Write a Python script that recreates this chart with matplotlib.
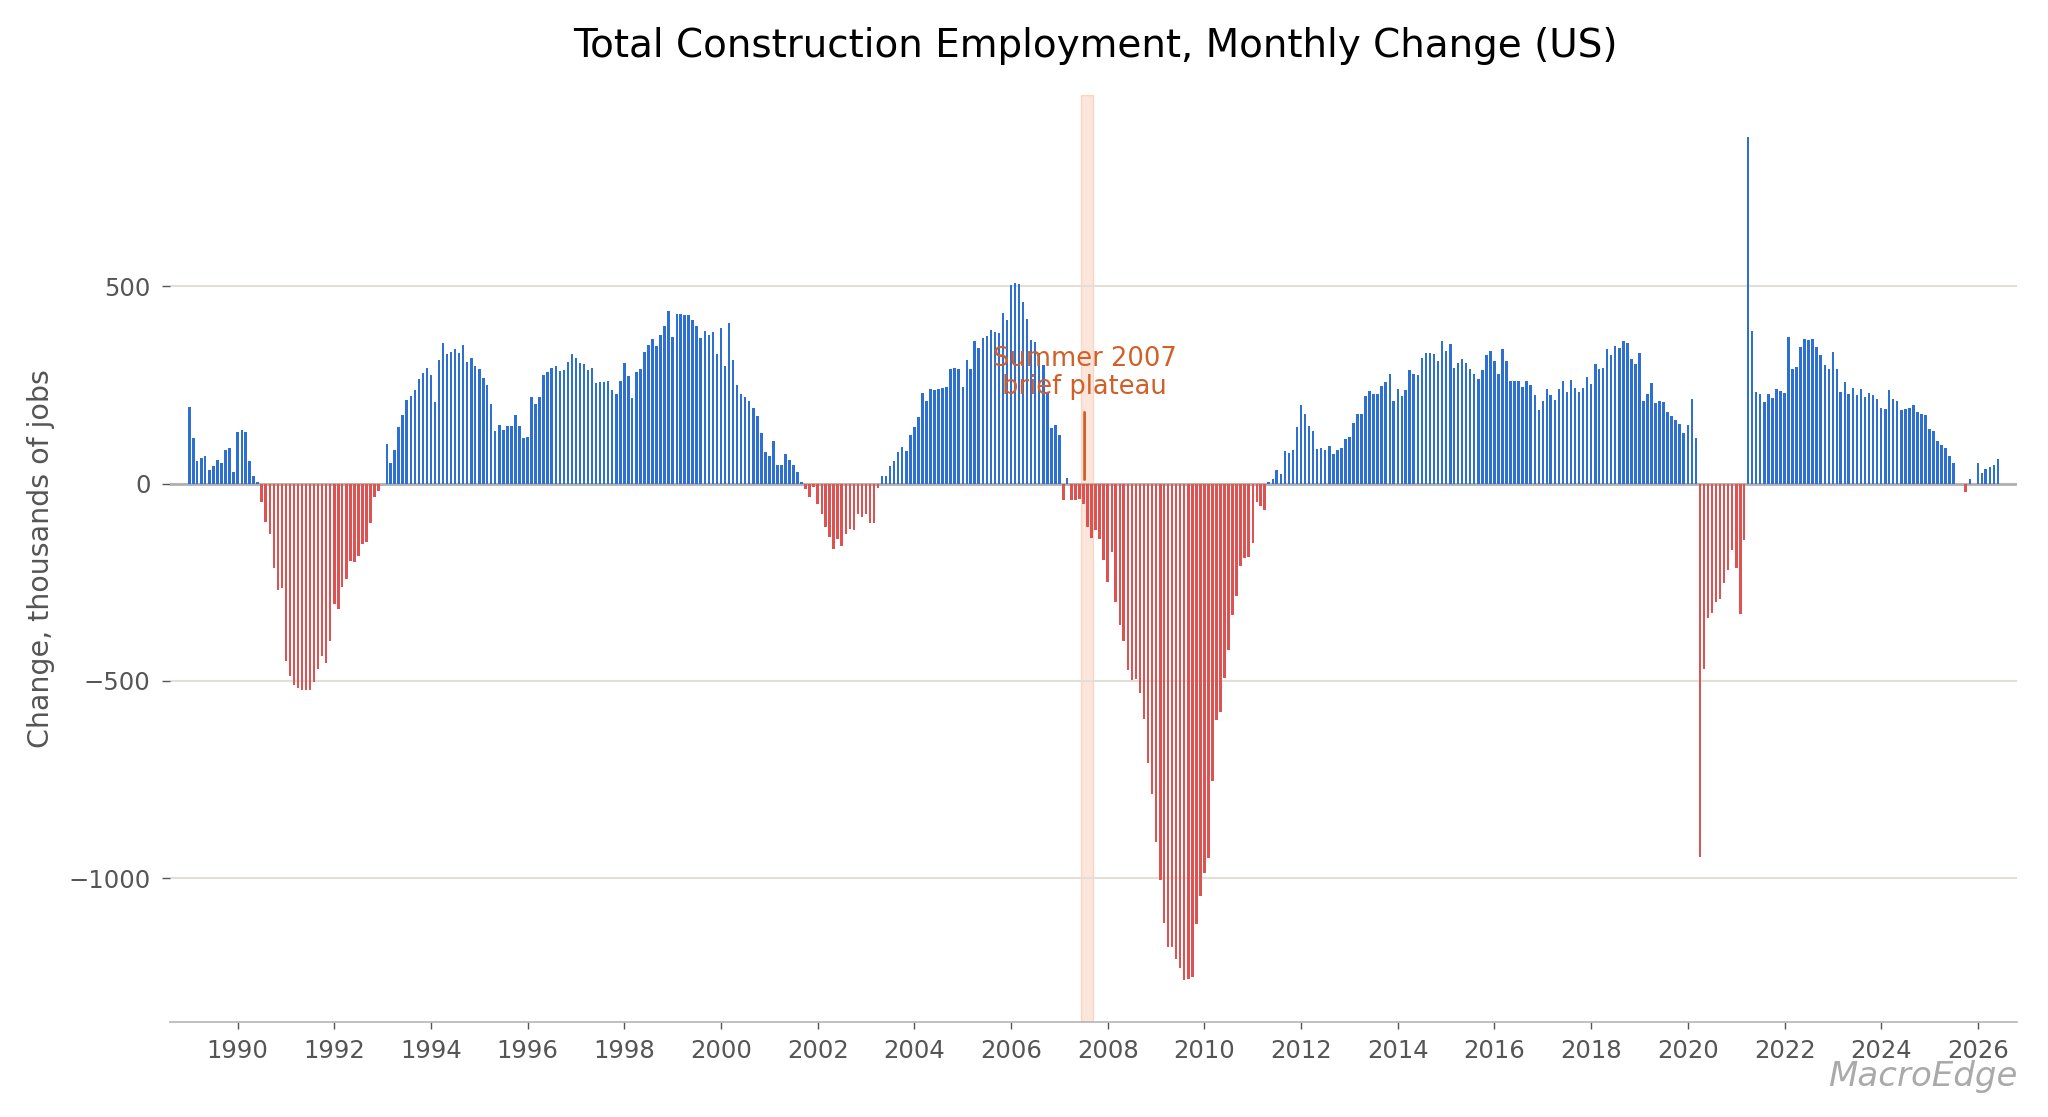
import numpy as np
import pandas as pd
import matplotlib
matplotlib.use("Agg")
import matplotlib.pyplot as plt
import matplotlib.dates as mdates

# ---- data: year-over-year change in construction employment (thousands), monthly from 1989-01
start_month = "1989-01-01"
values_1989_1993 = [193, 115, 58, 65, 70, 35, 44, 60, 51, 85, 89, 30,
                    131, 136, 131, 58, 20, 4,
                    -46, -97, -128, -215, -270, -265, -451, -488, -511, -519, -522, -522,
                    -524, -503, -469, -437, -455, -400, -306, -318, -262, -241, -196, -198,
                    -184, -154, -147, -99, -35, -19,
                    0,
                    100, 53, 84, 144, 173, 211, 222, 236, 264, 279, 293, 275, 207, 312,
                    355, 329, 334, 340, 332]
values_1994_1998 = [350, 308, 319, 298, 291, 267, 249, 201, 133, 149, 135, 145, 147, 173,
                    145, 116, 118, 220, 201, 220, 274, 282, 293, 297, 284, 288, 308, 328,
                    317, 305, 303, 288, 293, 255, 258, 258, 260, 237, 227, 260, 305, 272,
                    216, 282, 290, 333, 352, 366, 348, 376, 399]
values_1998_2003 = [437, 371, 430, 430, 427, 426, 415, 398, 369, 386, 377, 383, 328, 393,
                    298, 407, 312, 250, 227, 220, 208, 191, 171, 128, 80, 69, 109, 47, 47,
                    76, 59, 47, 29, 3, -13, -34, -8, -51, -77, -110, -136, -166, -140, -159,
                    -128, -115, -117, -76, -85, -76, -100]
values_2003_2007 = [-101, -12, 20, 20, 44, 57, 79, 93, 82, 123, 144, 169, 230, 209, 240,
                    237, 239, 242, 244, 291, 294, 289, 244, 313, 291, 362, 343, 369, 373,
                    389, 383, 381, 431, 414, 503, 508, 505, 459, 416, 364, 358, 330, 300,
                    230, 140, 149, 122, -41, 15, -41, -41]
values_2007_2011 = [-38, -51, -110, -139, -117, -141, -194, -249, -174, -301, -359, -399,
                    -473, -499, -496, -531, -597, -709, -788, -909, -1006, -1115, -1174,
                    -1174, -1204, -1229, -1258, -1255, -1251, -1117, -1046, -987, -948,
                    -754, -599, -578, -494, -423, -332, -286, -208, -189, -187, -151, -48,
                    -58, -67, 3, 12, 35, 25]
values_2011_2015 = [82, 78, 85, 144, 198, 177, 146, 132, 88, 91, 85, 94, 75, 85, 89, 112,
                    118, 153, 177, 177, 223, 234, 227, 228, 247, 257, 278, 208, 239, 221,
                    236, 288, 278, 276, 318, 330, 330, 328, 310, 361, 335, 354, 294, 306,
                    316, 306, 291, 278, 264, 288, 326]
values_2015_2020 = [335, 310, 278, 342, 310, 261, 259, 261, 245, 259, 250, 224, 186, 208,
                    240, 224, 212, 240, 259, 231, 263, 243, 231, 243, 271, 253, 302, 289,
                    294, 342, 327, 349, 344, 360, 356, 316, 304, 330, 210, 228, 255, 203,
                    210, 207, 182, 170, 162, 152, 129, 148, 215, 115]
values_2020_2024 = [-947, -470, -341, -328, -301, -293, -251, -219, -169, -214, -331, -142,
                    878, 386, 232, 228, 206, 228, 217, 239, 235, 230, 372, 291, 296, 346,
                    366, 363, 366, 346, 327, 300, 290, 334, 290, 233, 257, 226, 242, 224,
                    239, 220, 230, 224, 215, 191, 188, 236, 215]
values_2024_2026 = [210, 187, 189, 192, 200, 181, 176, 173, 139, 134, 108, 98, 91, 69, 51,
                    0, 0, -21, 11, 0, 51, 27, 37, 41, 47, 62]

values = np.array(values_1989_1993 + values_1994_1998 + values_1998_2003 + values_2003_2007
                  + values_2007_2011 + values_2011_2015 + values_2015_2020 + values_2020_2024
                  + values_2024_2026, dtype=float)
dates = pd.date_range(start_month, periods=len(values), freq="MS")

title = "Total Construction Employment, Monthly Change (US)"
ylabel = "Change, thousands of jobs"
annot_text = "Summer 2007\nbrief plateau"
annot_date = pd.Timestamp("2007-07-10")
band_start, band_end = pd.Timestamp("2007-06-12"), pd.Timestamp("2007-09-10")
yticks = [-1000, -500, 0, 500]

BLUE = "#2d6fd2"
RED = "#df5252"
ORANGE = "#d0602a"

fig = plt.figure(figsize=(20.48, 11.17), dpi=100)
ax = fig.add_axes([0.083, 0.085, 0.902, 0.830])

colors = [BLUE if v >= 0 else RED for v in values]
ax.bar(dates, values, width=19, color=colors, linewidth=0, zorder=3)

ax.margins(x=0.01)
ax.set_yticks(yticks)
ax.yaxis.grid(True, color="#e2dfd8", linewidth=1.5, zorder=0)
ax.xaxis.grid(False)
ax.axhline(0, color="#b0b0b0", linewidth=2, zorder=2)

ax.axvspan(band_start, band_end, facecolor="#f9b89a", alpha=0.35,
           edgecolor="#f4a07a", linewidth=1, zorder=1)
ax.annotate(annot_text, xy=(annot_date, 10), xytext=(annot_date, 212),
            ha="center", va="bottom", color=ORANGE, fontsize=18.5, linespacing=1.1,
            arrowprops=dict(arrowstyle="-", color=ORANGE, lw=2, shrinkA=7, shrinkB=0),
            zorder=5)

ax.xaxis.set_major_locator(mdates.YearLocator(2))
ax.xaxis.set_major_formatter(mdates.DateFormatter("%Y"))

for s in ["top", "right", "left"]:
    ax.spines[s].set_visible(False)
ax.spines["bottom"].set_color("#b5b5b5")
ax.spines["bottom"].set_linewidth(1.2)
ax.tick_params(axis="x", colors="#555555", labelsize=17.5, length=5, pad=7, width=1)
ax.tick_params(axis="y", colors="#555555", labelsize=17.5, length=6, pad=8, width=1)

fig.text(0.535, 0.9588, title, ha="center", va="center", fontsize=28, color="black")
fig.text(0.020, 0.4996, ylabel, rotation=90, ha="center", va="center",
         fontsize=20.5, color="#555555")
fig.text(0.985, 0.0367, "MacroEdge", ha="right", va="center", fontsize=24.5,
         style="italic", color="#aaaaaa")

fig.savefig("out.png", dpi=100)
